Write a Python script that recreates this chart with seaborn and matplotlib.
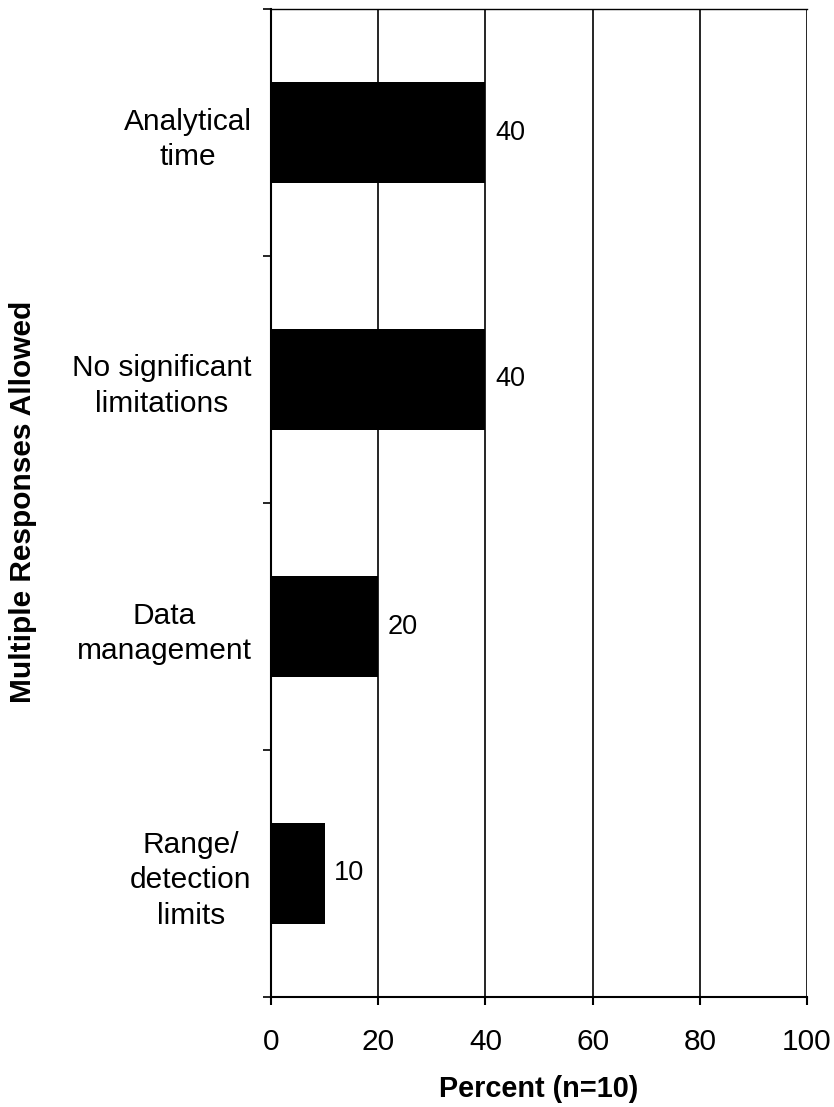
import matplotlib
matplotlib.use("Agg")
import matplotlib.pyplot as plt
import seaborn as sns
import pandas as pd
import numpy as np

categories = ["Analytical\ntime", "No significant\nlimitations", "Data\nmanagement", "Range/\ndetection\nlimits"]
values = [40, 40, 20, 10]
x_ticks = [0, 20, 40, 60, 80, 100]

sns.set_theme(style="white")
plt.rcParams['font.family'] = ['Liberation Sans', 'DejaVu Sans']
plt.rcParams['text.color'] = 'black'
plt.rcParams['axes.labelcolor'] = 'black'
plt.rcParams['xtick.color'] = 'black'
plt.rcParams['ytick.color'] = 'black'

df = pd.DataFrame({"cat": categories, "val": values})

fig = plt.figure(figsize=(8.34, 11.07), dpi=100)
ax = fig.add_axes([271/834, 1 - 997/1107, (807-271)/834, (997-9)/1107])

sns.barplot(data=df, x="val", y="cat", orient="h", color="black", width=0.405,
            saturation=1, edgecolor="black", linewidth=0, ax=ax, zorder=3)

ax.set_xlim(0, 100)
ax.set_ylim(len(categories) - 0.5, -0.5)
ax.set_xticks(x_ticks)
ax.set_xticklabels([str(t) for t in x_ticks], fontsize=21.5)
ax.tick_params(axis="x", direction="out", length=6, width=1.5, color="black", pad=16, bottom=True)

# category boundaries as major ticks, labels on minor ticks
ax.set_yticks(np.arange(len(categories) + 1) - 0.5)
ax.set_yticklabels([])
ax.tick_params(axis="y", which="major", direction="out", length=6, width=1.2, color="black", left=True)
ax.set_yticks(np.arange(len(categories)), minor=True)
ax.set_yticklabels(categories, minor=True, fontsize=21.5, multialignment="center", linespacing=1.35)
ax.tick_params(axis="y", which="minor", length=0, pad=14)

for x in x_ticks[1:]:
    ax.axvline(x, color="black", lw=1.2, zorder=1)

for sp in ["left", "bottom"]:
    ax.spines[sp].set_color("black")
    ax.spines[sp].set_linewidth(1.5)
ax.spines["top"].set_color("black")
ax.spines["top"].set_linewidth(1.0)
ax.spines["right"].set_visible(False)

for i, v in enumerate(values):
    ax.text(v + 1.8, i, str(v), va="center", ha="left", fontsize=19.5, color="black")

ax.set_xlabel("Percent (n=10)", fontsize=20.8, fontweight="bold", labelpad=14, color="black")
ax.set_ylabel("")
fig.text(23/834, 1 - 502/1107, "Multiple Responses Allowed", rotation=90, fontsize=21.5,
         fontweight="bold", ha="center", va="center", color="black")

fig.savefig("out.png", dpi=100)
